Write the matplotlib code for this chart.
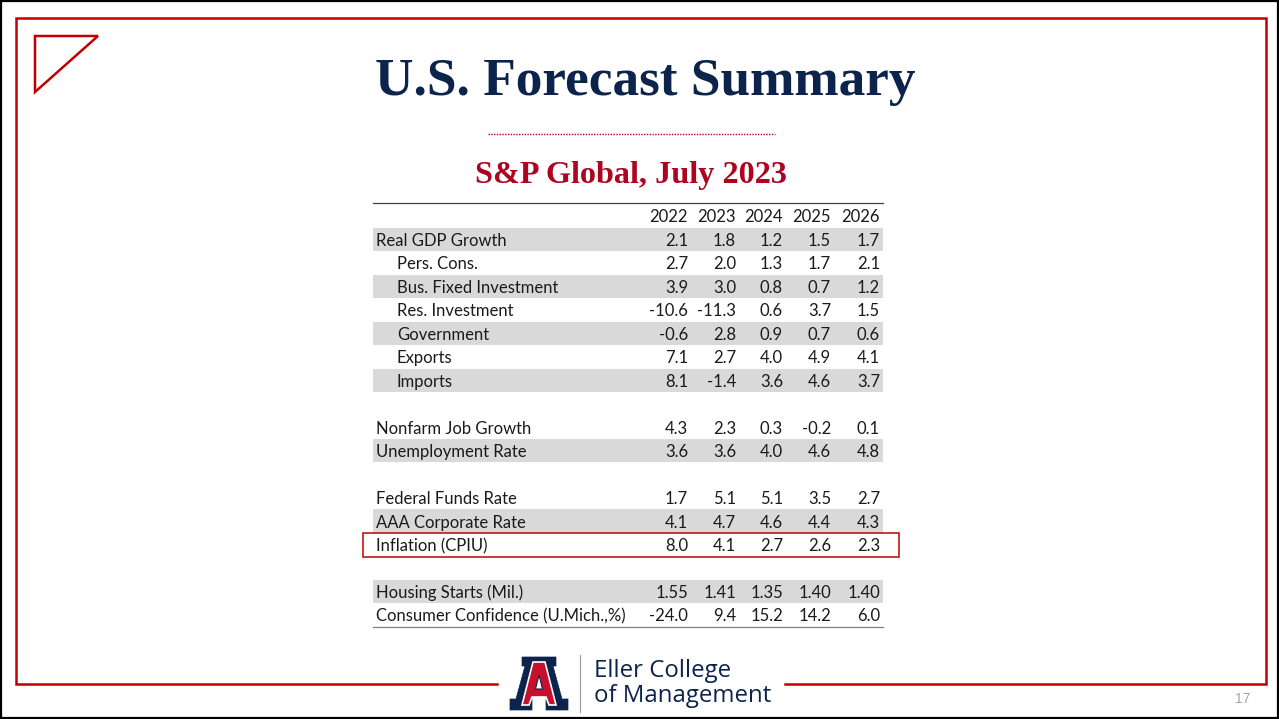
import matplotlib
matplotlib.use("Agg")
import matplotlib.pyplot as plt
from matplotlib.patches import Rectangle, Polygon

# ---------------- data ----------------
title = "U.S. Forecast Summary"
subtitle = "S&P Global, July 2023"
years = ["2022", "2023", "2024", "2025", "2026"]

row_labels = [
    "Real GDP Growth", "Pers. Cons.", "Bus. Fixed Investment", "Res. Investment",
    "Government", "Exports", "Imports", None,
    "Nonfarm Job Growth", "Unemployment Rate", None,
    "Federal Funds Rate", "AAA Corporate Rate", "Inflation (CPIU)", None,
    "Housing Starts (Mil.)", "Consumer Confidence (U.Mich.,%)",
]
row_indent = [0, 1, 1, 1, 1, 1, 1, 0, 0, 0, 0, 0, 0, 0, 0, 0, 0]
row_shaded = [1, 0, 1, 0, 1, 0, 1, 0, 0, 1, 0, 0, 1, 0, 0, 1, 0]
row_decimals = [1, 1, 1, 1, 1, 1, 1, 1, 1, 1, 1, 1, 1, 1, 1, 2, 1]

real_gdp = [2.1, 1.8, 1.2, 1.5, 1.7]
pers_cons = [2.7, 2.0, 1.3, 1.7, 2.1]
bus_fixed = [3.9, 3.0, 0.8, 0.7, 1.2]
res_inv = [-10.6, -11.3, 0.6, 3.7, 1.5]
government = [-0.6, 2.8, 0.9, 0.7, 0.6]
exports = [7.1, 2.7, 4.0, 4.9, 4.1]
imports = [8.1, -1.4, 3.6, 4.6, 3.7]
nonfarm = [4.3, 2.3, 0.3, -0.2, 0.1]
unemployment = [3.6, 3.6, 4.0, 4.6, 4.8]
fed_funds = [1.7, 5.1, 5.1, 3.5, 2.7]
aaa_rate = [4.1, 4.7, 4.6, 4.4, 4.3]
inflation = [8.0, 4.1, 2.7, 2.6, 2.3]
housing = [1.55, 1.41, 1.35, 1.40, 1.40]
confidence = [-24.0, 9.4, 15.2, 14.2, 6.0]

row_values = [real_gdp, pers_cons, bus_fixed, res_inv, government, exports, imports, None,
              nonfarm, unemployment, None, fed_funds, aaa_rate, inflation, None,
              housing, confidence]
highlight_row = "Inflation (CPIU)"
page_number = "17"

# ---------------- style ----------------
NAVY = "#0C234B"
RED_FRAME = "#C00000"
RED_SUB = "#AB0520"
GRAY = "#D9D9D9"
TXT = "#1A1A1A"
TABLE_FONT = ["Lato", "DejaVu Sans"]
SERIF = ["Liberation Serif", "DejaVu Serif"]

W, H = 1279, 719
fig = plt.figure(figsize=(W / 100, H / 100), dpi=100)
ax = fig.add_axes([0, 0, 1, 1])
ax.set_xlim(0, W)
ax.set_ylim(H, 0)
ax.axis("off")

# outer black border
ax.add_patch(Rectangle((1, 1), W - 2.5, H - 2.5, fill=False, ec="black", lw=1.6))

# red frame (broken at the bottom by the logo)
fl, ft, fr, fb = 15.5, 17.5, 1266, 683.5
ax.plot([497, fl, fl, fr, fr, 785], [fb, fb, ft, ft, fb, fb], color=RED_FRAME, lw=1.8,
        solid_joinstyle="miter")

# triangle
ax.add_patch(Polygon([(35, 36), (98, 36), (35, 92)], closed=True, fill=False,
                     ec=RED_FRAME, lw=1.8, joinstyle="miter"))

# title
ax.text(645, 82, title, ha="center", va="center", fontsize=38.3, fontweight="bold",
        family=SERIF, color=NAVY)
# dotted line
ax.plot([488, 775], [133.5, 133.5], color=RED_SUB, lw=1.0, ls=(0, (1, 1)))
# subtitle
ax.text(631, 175, subtitle, ha="center", va="center", fontsize=23.2, fontweight="bold",
        family=SERIF, color=RED_SUB)

# ---------------- table ----------------
tx0, tx1 = 373, 883
header_y = 216
row_h = 23.47
col_right = [688, 736, 783, 831, 880]
label_x = [376, 397]
fs = 12.0
dy = 1.5

ax.plot([tx0, tx1], [203, 203], color="#404040", lw=0.9)
for j, yr in enumerate(years):
    ax.text(col_right[j], header_y + dy, yr, ha="right", va="center", fontsize=fs,
            family=TABLE_FONT, color=TXT)

for i, lab in enumerate(row_labels):
    y = header_y + (i + 1) * row_h
    if row_shaded[i]:
        ax.add_patch(Rectangle((tx0, y - row_h / 2), tx1 - tx0, row_h, fc=GRAY, ec="none"))
    if lab is None:
        continue
    ax.text(label_x[row_indent[i]], y + dy, lab, ha="left", va="center", fontsize=fs,
            family=TABLE_FONT, color=TXT)
    for j, v in enumerate(row_values[i]):
        ax.text(col_right[j], y + dy, f"{v:.{row_decimals[i]}f}", ha="right", va="center",
                fontsize=fs, family=TABLE_FONT, color=TXT)
    if lab == highlight_row:
        ax.add_patch(Rectangle((363, y - 12), 899 - 363, 24, fill=False, ec=RED_FRAME, lw=1.1))

bottom_y = header_y + len(row_labels) * row_h + row_h / 2
ax.plot([tx0, tx1], [bottom_y, bottom_y], color="#808080", lw=0.9)

# ---------------- logo ----------------
outer_A = [(522, 657), (556, 657), (556, 666), (553, 666), (562, 699), (568, 699), (568, 710),
           (546, 710), (546, 699), (549, 699), (547, 693), (531, 693), (529, 699), (532, 699),
           (532, 710), (510, 710), (510, 699), (516, 699), (525, 666), (522, 666)]
ax.add_patch(Polygon(outer_A, closed=True, fc=NAVY, ec=NAVY, lw=0.5))
inner_A = [(533, 662), (545, 662), (556, 705), (549, 705), (546, 697), (532, 697),
           (529, 705), (522, 705)]
ax.add_patch(Polygon(inner_A, closed=True, fc="#C8102E", ec="white", lw=1.2))
ax.add_patch(Polygon([(535.5, 689), (542.5, 689), (539, 675)], closed=True, fc="white",
                     ec=NAVY, lw=0.8))
ax.plot([580, 580], [655, 712], color="#9A9A9A", lw=0.8)
ax.text(594, 671, "Eller College", ha="left", va="center", fontsize=17.3,
        family=["Open Sans", "DejaVu Sans"], color=NAVY)
ax.text(594, 696, "of Management", ha="left", va="center", fontsize=17.3,
        family=["Open Sans", "DejaVu Sans"], color=NAVY)

# page number
ax.text(1243, 699, page_number, ha="center", va="center", fontsize=10,
        family=["Liberation Sans", "DejaVu Sans"], color="#A6A6A6")

fig.savefig("out.png", dpi=100)
